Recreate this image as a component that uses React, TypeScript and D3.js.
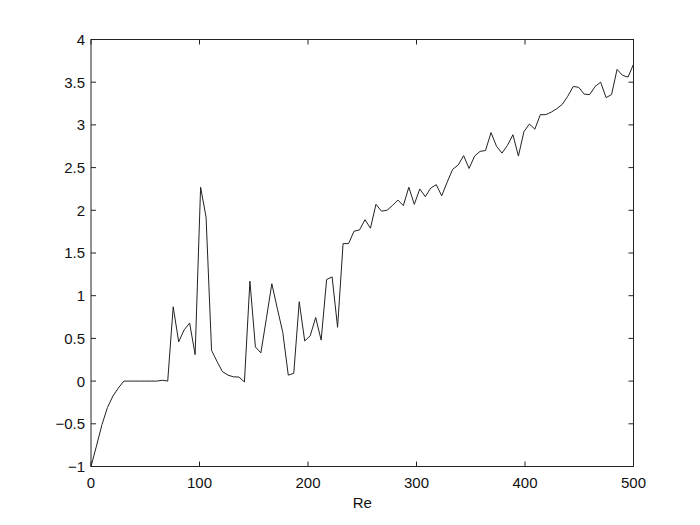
import React from "react";
import * as d3 from "d3";

// sampled on a uniform grid of 100 points from Re = 0 to Re = 500
const reMin = 0;
const reMax = 500;
const values = [
  -1, -0.76, -0.51, -0.31, -0.175, -0.08, 0, 0, 0, 0,
  0, 0, 0, 0.01, 0, 0.87, 0.46, 0.6, 0.68, 0.31,
  2.27, 1.92, 0.36, 0.23, 0.11, 0.07, 0.05, 0.048, -0.01, 1.17,
  0.4, 0.33, 0.73, 1.14, 0.85, 0.57, 0.07, 0.09, 0.93, 0.47,
  0.53, 0.745, 0.48, 1.19, 1.22, 0.63, 1.61, 1.61, 1.755, 1.77,
  1.89, 1.79, 2.07, 1.99, 2.0, 2.055, 2.12, 2.055, 2.27, 2.07,
  2.25, 2.16, 2.26, 2.3, 2.17, 2.33, 2.48, 2.53, 2.64, 2.49,
  2.635, 2.69, 2.7, 2.91, 2.75, 2.67, 2.76, 2.885, 2.635, 2.92,
  3.01, 2.95, 3.12, 3.12, 3.15, 3.19, 3.24, 3.335, 3.45, 3.44,
  3.36, 3.355, 3.45, 3.5, 3.32, 3.355, 3.65, 3.58, 3.56, 3.71,
];

const xTicks = [0, 100, 200, 300, 400, 500];
const yTicks = [-1, -0.5, 0, 0.5, 1, 1.5, 2, 2.5, 3, 3.5, 4];
const xLabel = "Re";

const W = 700;
const H = 525;
const box = { left: 91, right: 633.5, top: 39.5, bottom: 466.5 };
const font = "'Liberation Sans', Arial, sans-serif";

const fmt = (v: number) => (v < 0 ? "\u2212" + Math.abs(v) : String(v));

export default function App() {
  const x = d3.scaleLinear().domain([reMin, reMax]).range([box.left, box.right]);
  const y = d3.scaleLinear().domain([-1, 4]).range([box.bottom, box.top]);

  const pts: [number, number][] = values.map((v, i) => [
    reMin + (i * (reMax - reMin)) / (values.length - 1),
    v,
  ]);
  const line = d3
    .line<[number, number]>()
    .x((d) => x(d[0]))
    .y((d) => y(d[1]));

  const tick = 5;

  return (
    <svg
      width={W}
      height={H}
      style={{ position: "absolute", left: 0, top: 0, background: "#fff" }}
      fontFamily={font}
    >
      <rect x={0} y={0} width={W} height={H} fill="#fff" />
      <path d={line(pts) || ""} fill="none" stroke="#222" strokeWidth={1} />

      {/* box */}
      <rect
        x={box.left}
        y={box.top}
        width={box.right - box.left}
        height={box.bottom - box.top}
        fill="none"
        stroke="#222"
        strokeWidth={1}
      />

      {xTicks.map((t) => (
        <g key={"x" + t}>
          <line x1={x(t)} x2={x(t)} y1={box.bottom} y2={box.bottom - tick} stroke="#222" />
          <line x1={x(t)} x2={x(t)} y1={box.top} y2={box.top + tick} stroke="#222" />
          <text x={x(t)} y={box.bottom + 21} fontSize={15} textAnchor="middle" fill="#111">
            {fmt(t)}
          </text>
        </g>
      ))}

      {yTicks.map((t) => (
        <g key={"y" + t}>
          <line x1={box.left} x2={box.left + tick} y1={y(t)} y2={y(t)} stroke="#222" />
          <line x1={box.right} x2={box.right - tick} y1={y(t)} y2={y(t)} stroke="#222" />
          <text
            x={box.left - 6}
            y={y(t)}
            dy="0.36em"
            fontSize={15}
            textAnchor="end"
            fill="#111"
          >
            {fmt(t)}
          </text>
        </g>
      ))}

      <text
        x={(box.left + box.right) / 2}
        y={box.bottom + 41}
        fontSize={15}
        textAnchor="middle"
        fill="#111"
      >
        {xLabel}
      </text>
    </svg>
  );
}
